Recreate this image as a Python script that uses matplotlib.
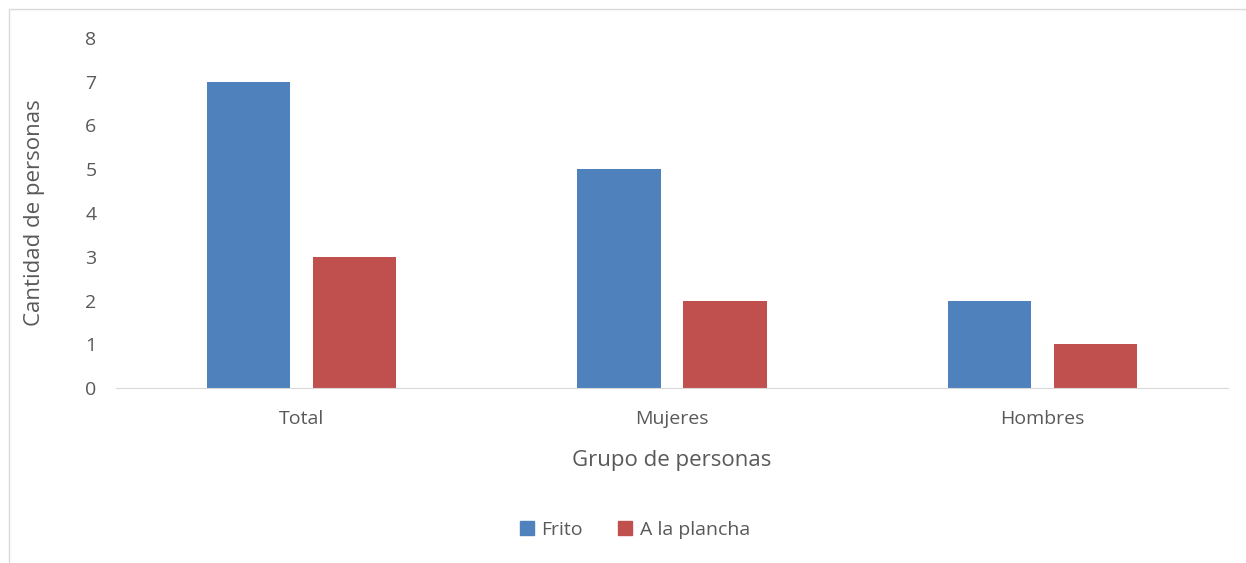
import matplotlib
matplotlib.use("Agg")
import matplotlib.pyplot as plt
from matplotlib.patches import Rectangle, Patch
import numpy as np

categories = ["Total", "Mujeres", "Hombres"]
frito = [7, 5, 2]
plancha = [3, 2, 1]
series_names = ["Frito", "A la plancha"]
yticks = [0, 1, 2, 3, 4, 5, 6, 7, 8]

plt.rcParams['font.family'] = ['Open Sans', 'DejaVu Sans']
txt = '#595959'
blue = '#4F81BD'
red = '#C0504D'

fig = plt.figure(figsize=(12.46, 5.63), dpi=100)
fig.patches.append(Rectangle((9/1246, -0.01), 1.1, 1 - 9/563 + 0.01, transform=fig.transFigure,
                             fill=False, edgecolor='#D9D9D9', linewidth=1))
ax = fig.add_axes([116/1246, 1 - 388/563, 1112/1246, 350/563])
x = np.arange(len(categories))
w = 0.224
off = 0.143
ax.bar(x - off, frito, w, color=blue, label=series_names[0])
ax.bar(x + off, plancha, w, color=red, label=series_names[1])
ax.set_xlim(-0.5, 2.5)
ax.set_ylim(0, 8)
ax.set_yticks(yticks)
ax.set_xticks(x)
ax.set_xticklabels(categories)
for s in ['top', 'right', 'left']:
    ax.spines[s].set_visible(False)
ax.spines['bottom'].set_color('#D9D9D9')
ax.tick_params(axis='both', length=0, labelsize=14, colors=txt)
ax.tick_params(axis='y', pad=14)
ax.tick_params(axis='x', pad=16)
ax.set_xlabel("Grupo de personas", fontsize=16, color=txt, labelpad=16)
ax.set_ylabel("Cantidad de personas", fontsize=16, color=txt, labelpad=29)
handles = [Patch(color=blue), Patch(color=red)]
fig.legend(handles, series_names, loc='center', bbox_to_anchor=(635/1246, 1 - 530/563), ncol=2,
           frameon=False, fontsize=14, labelcolor=txt, handlelength=0.7, handleheight=0.7,
           columnspacing=1.8, handletextpad=0.4)
fig.savefig("out.png", dpi=100)
